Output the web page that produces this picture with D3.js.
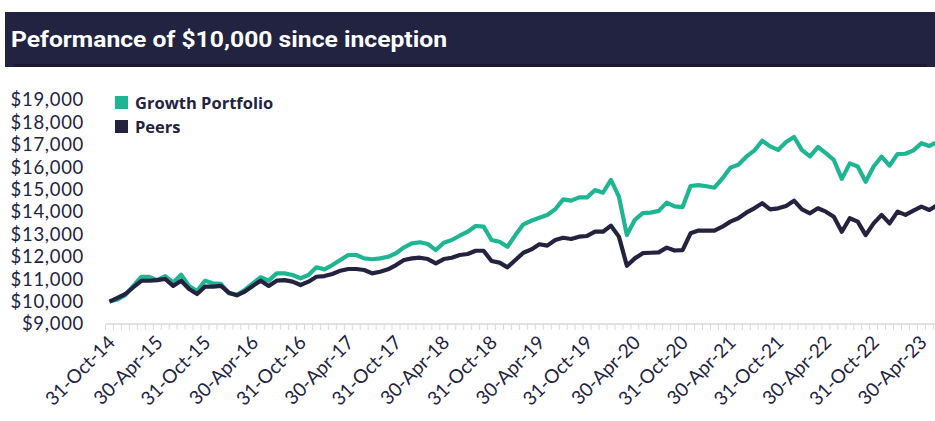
<!DOCTYPE html>
<html lang="en">
<head>
<meta charset="UTF-8">
<title>Peformance of $10,000 since inception</title>
<script src="https://d3js.org/d3.v7.min.js"></script>
<style>
  body { margin: 0; background: #fff; }
  .chartContainer svg { display: block; font-family: Lato, "Noto Sans", sans-serif; }
</style>
</head>
<body>
<div class="chartContainer"></div>
<script>
// Data
const chartTitle = "Peformance of $10,000 since inception";
const seriesNames = ["Growth Portfolio", "Peers"];

// month-end values, 31-Oct-14 .. 30-Jun-23
const growth = [
  10000, 10100, 10300, 10700, 11100, 11100, 10960, 11140, 10850, 11200,
  10700, 10470, 10930, 10820, 10790, 10370, 10300, 10520, 10815, 11085,
  10935, 11260, 11260, 11190, 11040, 11190, 11530, 11440, 11630, 11860,
  12080, 12080, 11930, 11890, 11930, 12000, 12160, 12420, 12600, 12650,
  12570, 12300, 12630, 12750, 12940, 13120, 13375, 13345, 12750, 12675,
  12450, 12970, 13450, 13610, 13745, 13865, 14120, 14565, 14505, 14655,
  14655, 14980, 14860, 15430, 14685, 12970, 13650, 13950, 13970, 14050,
  14420, 14250, 14220, 15160, 15200, 15150, 15085, 15500, 15980, 16110,
  16470, 16740, 17180, 16930, 16770, 17120, 17350, 16760, 16480, 16900,
  16630, 16320, 15480, 16170, 16030, 15350, 16030, 16470, 16070, 16590,
  16600, 16750, 17070, 16950, 17130
];
const peers = [
  10000, 10170, 10340, 10640, 10930, 10930, 10960, 11010, 10700, 10930,
  10560, 10340, 10670, 10670, 10700, 10400, 10280, 10450, 10700, 10935,
  10700, 10935, 10960, 10890, 10740, 10890, 11110, 11140, 11230, 11380,
  11455, 11455, 11410, 11260, 11335, 11440, 11630, 11860, 11930, 11960,
  11900, 11710, 11900, 11960, 12080, 12125, 12270, 12270, 11810, 11740,
  11530, 11860, 12180, 12330, 12560, 12500, 12750, 12850, 12795, 12900,
  12930, 13120, 13120, 13390, 12900, 11600, 11930, 12160, 12180, 12200,
  12410, 12280, 12300, 13050, 13170, 13170, 13170, 13345, 13570, 13720,
  13970, 14165, 14390, 14120, 14165, 14270, 14505, 14120, 13940, 14165,
  14015, 13790, 13120, 13720, 13570, 12970, 13490, 13870, 13490, 14015,
  13870, 14060, 14240, 14090, 14310
];

const yTicks = [9000, 10000, 11000, 12000, 13000, 14000, 15000, 16000, 17000, 18000, 19000];
const xTickLabels = [
  "31-Oct-14", "30-Apr-15", "31-Oct-15", "30-Apr-16", "31-Oct-16", "30-Apr-17",
  "31-Oct-17", "30-Apr-18", "31-Oct-18", "30-Apr-19", "31-Oct-19", "30-Apr-20",
  "31-Oct-20", "30-Apr-21", "31-Oct-21", "30-Apr-22", "31-Oct-22", "30-Apr-23"
];

const colors = ["#1db592", "#23233f"];
const navy = "#23233f";

const fmtDate = d3.timeFormat("%d-%b-%y");
// last day of each month starting Oct 2014
const months = d3.range(growth.length).map(i => fmtDate(new Date(2014, 10 + i, 0)));

const width = 935, height = 421;
const svg = d3.select(".chartContainer").append("svg")
  .attr("width", width)
  .attr("height", height);

// title bar
svg.append("rect")
  .attr("x", 5).attr("y", 12)
  .attr("width", width - 5).attr("height", 55)
  .attr("fill", "#222241");
svg.append("rect")
  .attr("x", 14).attr("y", 64)
  .attr("width", width - 22).attr("height", 3)
  .attr("fill", "#1a1a2c");
svg.append("text")
  .attr("x", 11).attr("y", 47)
  .attr("fill", "#fff")
  .attr("textLength", 436)
  .attr("lengthAdjust", "spacingAndGlyphs")
  .style("font-family", "Roboto, sans-serif")
  .style("font-weight", 700)
  .style("font-size", "22px")
  .text(chartTitle);

// scales
const x = d3.scaleBand()
  .domain(months)
  .range([105.5, 105.5 + 7.96 * months.length]);
const cx = d => x(d) + x.bandwidth() / 2;

const y = d3.scaleLinear()
  .domain([9000, 19000])
  .range([324, 100]);

// y labels (tight spacing, like the original)
const yAxis = svg.append("g")
  .attr("transform", "translate(84,0)")
  .call(d3.axisLeft(y).tickValues(yTicks).tickSize(0).tickPadding(0)
    .tickFormat(d => "$" + d3.format(",")(d)));
yAxis.select(".domain").remove();
yAxis.selectAll("text")
  .attr("fill", navy)
  .style("font-family", "Lato, sans-serif")
  .style("font-size", "18.5px")
  .style("letter-spacing", "0.7px");

// x axis: line, monthly ticks between categories
const xg = svg.append("g");
xg.append("line")
  .attr("x1", x.range()[0]).attr("x2", width)
  .attr("y1", 324).attr("y2", 324)
  .attr("stroke", "#d9d9d9").attr("stroke-width", 1.5);
xg.selectAll(".tick")
  .data(months.concat(["end"]))
  .enter().append("line")
  .attr("class", "tick")
  .attr("x1", (d, i) => x.range()[0] + i * x.step())
  .attr("x2", (d, i) => x.range()[0] + i * x.step())
  .attr("y1", 324).attr("y2", 330)
  .attr("stroke", "#d9d9d9").attr("stroke-width", 1);

xg.selectAll(".xlabel")
  .data(months.filter(m => xTickLabels.includes(m)))
  .enter().append("text")
  .attr("class", "xlabel")
  .attr("transform", d => `translate(${cx(d) + 2},${339}) rotate(-45)`)
  .attr("text-anchor", "end")
  .attr("dy", "0.35em")
  .attr("fill", navy)
  .style("font-size", "19px")
  .text(d => d);

// lines
const line = d3.line()
  .x((d, i) => cx(months[i]))
  .y(d => y(d));

[growth, peers].forEach((s, k) => {
  svg.append("path")
    .datum(s)
    .attr("d", line)
    .attr("fill", "none")
    .attr("stroke", colors[k])
    .attr("stroke-width", 4.2)
    .attr("stroke-linejoin", "round");
});

// legend
const legend = svg.append("g").attr("transform", "translate(115,96)");
seriesNames.forEach((n, k) => {
  const g = legend.append("g").attr("transform", `translate(0,${k * 24})`);
  g.append("rect").attr("width", 13).attr("height", 13).attr("fill", colors[k]);
  g.append("text")
    .attr("x", 20).attr("y", 13)
    .attr("fill", navy)
    .style("font-family", "'Open Sans', sans-serif")
    .style("font-weight", 700)
    .style("font-size", "16.5px")
    .text(n);
});
</script>
</body>
</html>
